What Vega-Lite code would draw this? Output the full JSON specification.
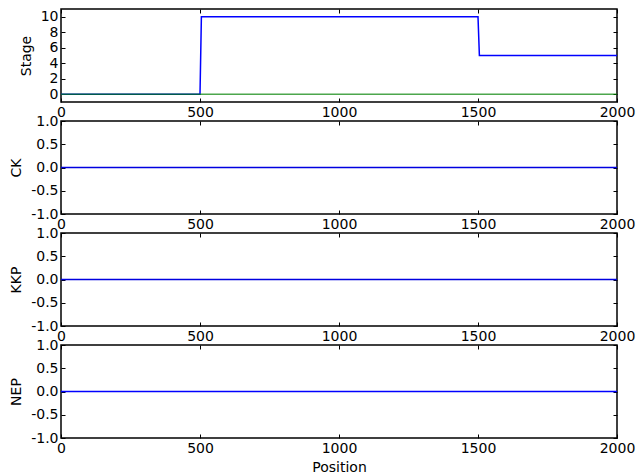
{
  "$schema": "https://vega.github.io/schema/vega-lite/v6.json",
  "padding": {"left": 8, "top": 7, "right": 5, "bottom": 5},
  "background": "white",
  "datasets": {
    "stage": [
      {"series": "blue", "position": 0, "value": 0},
      {"series": "blue", "position": 500, "value": 0},
      {"series": "blue", "position": 505, "value": 10},
      {"series": "blue", "position": 1500, "value": 10},
      {"series": "blue", "position": 1505, "value": 5},
      {"series": "blue", "position": 2000, "value": 5},
      {"series": "green", "position": 0, "value": 0},
      {"series": "green", "position": 2000, "value": 0}
    ],
    "ck": [{"position": 0, "value": 0}, {"position": 2000, "value": 0}],
    "kkp": [{"position": 0, "value": 0}, {"position": 2000, "value": 0}],
    "nep": [{"position": 0, "value": 0}, {"position": 2000, "value": 0}]
  },
  "spacing": 19,
  "bounds": "flush",
  "vconcat": [
    {
      "width": 556, "height": 93,
      "data": {"name": "stage"},
      "layer": [
        {
          "transform": [{"filter": "datum.series === 'blue'"}],
          "mark": {"type": "line", "color": "#0000ff", "strokeWidth": 1.5},
          "encoding": {
            "x": {"field": "position", "type": "quantitative", "scale": {"domain": [0, 2000], "nice": false, "zero": false},
                  "axis": {"orient": "bottom", "values": [0, 500, 1000, 1500, 2000], "format": "d", "title": null, "labelPadding": 7}},
            "y": {"field": "value", "type": "quantitative", "scale": {"domain": [-1, 11], "nice": false, "zero": false},
                  "axis": {"orient": "left", "values": [0, 2, 4, 6, 8, 10], "format": "d", "title": "Stage", "labelPadding": 7, "titlePadding": 7}}
          }
        },
        {
          "transform": [{"filter": "datum.series === 'green'"}],
          "mark": {"type": "line", "color": "#008000", "opacity": 0.7, "strokeWidth": 1.5},
          "encoding": {
            "x": {"field": "position", "type": "quantitative", "axis": null},
            "y": {"field": "value", "type": "quantitative", "axis": null}
          }
        },
        {
          "transform": [{"filter": "datum.series === 'green'"}],
          "mark": {"type": "line", "opacity": 0},
          "encoding": {
            "x": {"field": "position", "type": "quantitative", "axis": {"orient": "top", "values": [0, 500, 1000, 1500, 2000], "labels": false, "title": null}},
            "y": {"field": "value", "type": "quantitative", "axis": {"orient": "right", "values": [0, 2, 4, 6, 8, 10], "labels": false, "title": null}}
          }
        }
      ],
      "resolve": {"axis": {"x": "independent", "y": "independent"}}
    },
    {
      "width": 556, "height": 93,
      "data": {"name": "ck"},
      "layer": [
        {
          "mark": {"type": "line", "color": "#0000e0", "strokeWidth": 1.5},
          "encoding": {
            "x": {"field": "position", "type": "quantitative", "scale": {"domain": [0, 2000], "nice": false, "zero": false},
                  "axis": {"orient": "bottom", "values": [0, 500, 1000, 1500, 2000], "format": "d", "title": null, "labelPadding": 7}},
            "y": {"field": "value", "type": "quantitative", "scale": {"domain": [-1, 1], "nice": false},
                  "axis": {"orient": "left", "values": [-1, -0.5, 0, 0.5, 1], "format": ".1f", "labelExpr": "replace(datum.label, '\u2212', '-')", "title": "CK", "labelPadding": 7, "titlePadding": 7}}
          }
        },
        {
          "mark": {"type": "line", "opacity": 0},
          "encoding": {
            "x": {"field": "position", "type": "quantitative", "axis": {"orient": "top", "values": [0, 500, 1000, 1500, 2000], "labels": false, "title": null}},
            "y": {"field": "value", "type": "quantitative", "axis": {"orient": "right", "values": [-1, -0.5, 0, 0.5, 1], "labels": false, "title": null}}
          }
        }
      ],
      "resolve": {"axis": {"x": "independent", "y": "independent"}}
    },
    {
      "width": 556, "height": 93,
      "data": {"name": "kkp"},
      "layer": [
        {
          "mark": {"type": "line", "color": "#0000e0", "strokeWidth": 1.5},
          "encoding": {
            "x": {"field": "position", "type": "quantitative", "scale": {"domain": [0, 2000], "nice": false, "zero": false},
                  "axis": {"orient": "bottom", "values": [0, 500, 1000, 1500, 2000], "format": "d", "title": null, "labelPadding": 7}},
            "y": {"field": "value", "type": "quantitative", "scale": {"domain": [-1, 1], "nice": false},
                  "axis": {"orient": "left", "values": [-1, -0.5, 0, 0.5, 1], "format": ".1f", "labelExpr": "replace(datum.label, '\u2212', '-')", "title": "KKP", "labelPadding": 7, "titlePadding": 7}}
          }
        },
        {
          "mark": {"type": "line", "opacity": 0},
          "encoding": {
            "x": {"field": "position", "type": "quantitative", "axis": {"orient": "top", "values": [0, 500, 1000, 1500, 2000], "labels": false, "title": null}},
            "y": {"field": "value", "type": "quantitative", "axis": {"orient": "right", "values": [-1, -0.5, 0, 0.5, 1], "labels": false, "title": null}}
          }
        }
      ],
      "resolve": {"axis": {"x": "independent", "y": "independent"}}
    },
    {
      "width": 556, "height": 93,
      "data": {"name": "nep"},
      "layer": [
        {
          "mark": {"type": "line", "color": "#0000ff", "strokeWidth": 1.5},
          "encoding": {
            "x": {"field": "position", "type": "quantitative", "scale": {"domain": [0, 2000], "nice": false, "zero": false},
                  "axis": {"orient": "bottom", "values": [0, 500, 1000, 1500, 2000], "format": "d", "title": "Position", "labelPadding": 7, "titlePadding": 5}},
            "y": {"field": "value", "type": "quantitative", "scale": {"domain": [-1, 1], "nice": false},
                  "axis": {"orient": "left", "values": [-1, -0.5, 0, 0.5, 1], "format": ".1f", "labelExpr": "replace(datum.label, '\u2212', '-')", "title": "NEP", "labelPadding": 7, "titlePadding": 7}}
          }
        },
        {
          "mark": {"type": "line", "opacity": 0},
          "encoding": {
            "x": {"field": "position", "type": "quantitative", "axis": {"orient": "top", "values": [0, 500, 1000, 1500, 2000], "labels": false, "title": null}},
            "y": {"field": "value", "type": "quantitative", "axis": {"orient": "right", "values": [-1, -0.5, 0, 0.5, 1], "labels": false, "title": null}}
          }
        }
      ],
      "resolve": {"axis": {"x": "independent", "y": "independent"}}
    }
  ],
  "config": {
    "view": {"stroke": "black", "strokeWidth": 1.5},
    "axis": {
      "labelFont": "DejaVu Sans", "titleFont": "DejaVu Sans",
      "labelFontSize": 14, "titleFontSize": 14, "titleFontWeight": "normal",
      "labelColor": "black", "titleColor": "black", "tickColor": "black",
      "grid": false, "domain": false, "tickSize": -4, "tickWidth": 1,
      "labelFlush": false, "labelOverlap": false, "labelBound": false
    }
  }
}
